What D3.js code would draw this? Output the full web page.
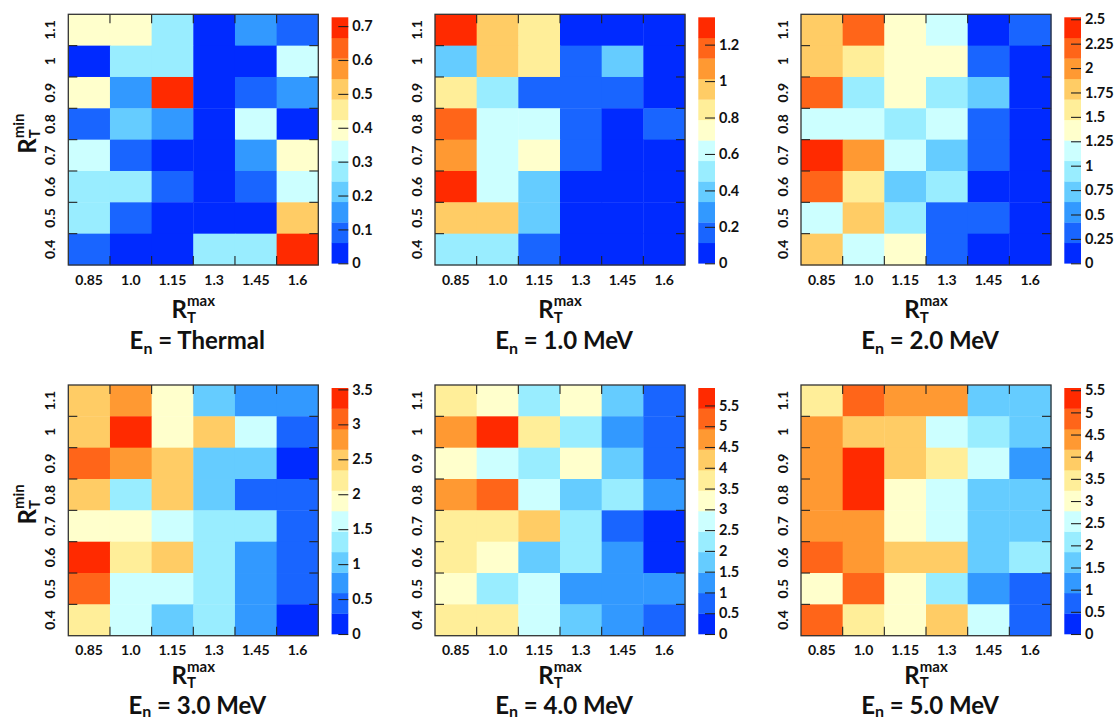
<!DOCTYPE html>
<html><head><meta charset="utf-8">
<script src="https://cdn.jsdelivr.net/npm/d3@7"></script>
<style>
body{margin:0;background:#fff}
text{font-family:Lato,'Open Sans',sans-serif;font-weight:bold;fill:#111}
</style>
</head><body>
<svg id="chart" width="1114" height="721"></svg>
<script>
// ---- data ----
const xCategories = ["0.85","1.0","1.15","1.3","1.45","1.6"];          // R_T^max
const yCategories = ["1.1","1","0.9","0.8","0.7","0.6","0.5","0.4"];    // R_T^min (top to bottom)
const panelTitles = ["Thermal","1.0 MeV","2.0 MeV","3.0 MeV","4.0 MeV","5.0 MeV"];
const zMax = [0.726, 1.35, 2.52, 3.52, 5.92, 5.55];
const zTicks = [
  [0,0.1,0.2,0.3,0.4,0.5,0.6,0.7],
  [0,0.2,0.4,0.6,0.8,1,1.2],
  [0,0.25,0.5,0.75,1,1.25,1.5,1.75,2,2.25,2.5],
  [0,0.5,1,1.5,2,2.5,3,3.5],
  [0,0.5,1,1.5,2,2.5,3,3.5,4,4.5,5,5.5],
  [0,0.5,1,1.5,2,2.5,3,3.5,4,4.5,5,5.5]
];
// rows follow yCategories (1.1 at top), columns follow xCategories
const valuesThermal = [
  [0.39,0.40,0.27,0.02,0.15,0.09],
  [0.03,0.27,0.28,0.01,0.02,0.33],
  [0.40,0.16,0.726,0.02,0.09,0.15],
  [0.09,0.21,0.15,0.01,0.33,0.03],
  [0.33,0.10,0.04,0.02,0.15,0.39],
  [0.27,0.28,0.09,0.01,0.10,0.33],
  [0.27,0.09,0.03,0.02,0.04,0.51],
  [0.09,0.03,0.04,0.27,0.27,0.70]
];
const values1MeV = [
  [1.35,0.96,0.84,0.05,0.04,0.03],
  [0.39,0.96,0.84,0.17,0.39,0.05],
  [0.84,0.51,0.17,0.17,0.17,0.05],
  [1.18,0.62,0.62,0.17,0.05,0.17],
  [1.07,0.62,0.73,0.17,0.05,0.04],
  [1.29,0.62,0.39,0.04,0.03,0.03],
  [0.96,0.96,0.39,0.03,0.03,0.03],
  [0.51,0.51,0.17,0.03,0.03,0.03]
];
const values2MeV = [
  [1.79,2.21,1.37,1.16,0.10,0.32],
  [1.79,1.58,1.37,1.37,0.32,0.10],
  [2.21,0.95,1.37,0.95,0.74,0.10],
  [1.16,1.16,0.95,1.16,0.32,0.10],
  [2.52,2.00,1.16,0.74,0.32,0.10],
  [2.21,1.58,0.74,0.95,0.10,0.10],
  [1.16,1.79,0.95,0.32,0.32,0.10],
  [1.79,1.16,1.37,0.32,0.10,0.10]
];
const values3MeV = [
  [2.49,2.79,1.91,1.03,0.73,0.73],
  [2.49,3.52,1.91,2.49,1.61,0.44],
  [3.08,2.79,2.49,1.03,1.03,0.15],
  [2.49,1.32,2.49,1.03,0.44,0.44],
  [1.91,1.91,1.61,1.32,1.32,0.44],
  [3.37,2.20,2.49,1.32,0.73,0.44],
  [3.08,1.61,1.61,1.32,0.73,0.44],
  [2.20,1.61,1.03,1.32,0.73,0.15]
];
const values4MeV = [
  [3.70,3.21,2.22,3.21,1.73,0.74],
  [4.69,5.92,3.70,2.22,1.23,0.74],
  [3.21,2.71,2.22,3.21,1.73,0.74],
  [4.69,5.18,2.71,1.73,2.22,1.23],
  [3.70,3.70,4.19,2.22,0.74,0.25],
  [3.70,3.21,1.73,2.22,1.23,0.25],
  [3.21,2.22,2.71,1.23,1.23,1.23],
  [3.70,3.70,2.71,1.73,1.23,0.74]
];
const values5MeV = [
  [3.47,4.86,4.39,4.39,1.62,1.62],
  [4.39,3.93,3.93,2.54,2.08,1.62],
  [4.39,5.55,3.93,3.47,2.54,1.16],
  [4.39,5.32,3.01,2.54,1.62,1.62],
  [4.39,4.39,3.01,2.54,1.62,1.62],
  [4.86,4.39,3.93,3.93,1.62,2.08],
  [3.01,4.86,3.01,2.08,1.16,0.69],
  [4.86,3.47,3.01,3.93,2.54,0.69]
];
const panelValues = [valuesThermal, values1MeV, values2MeV, values3MeV, values4MeV, values5MeV];

// ---- style ----
const palette = ["#002aff","#1965ff","#3299ff","#65ccff","#99edff","#ccffff",
                 "#ffffcc","#ffee99","#ffcc65","#ff9932","#ff6519","#ff2a00"];
const frameX = [68.3, 435, 801];
const frameY = [14.3, 385];
const W = 250, H = 250.7;
const xLabelOff = [53, 48], titleOff = [84, 78];
const subDy = [5, 3.5];

const svg = d3.select("#chart");
svg.append("rect").attr("width",1114).attr("height",721).attr("fill","#fff");

function rLabel(g, sup) {
  const r = g.append("text").attr("font-size",24).text("R");
  const w = r.node().getComputedTextLength();
  const s1 = g.append("text").attr("x",w).attr("y",4.5).attr("font-size",15).text("T");
  const s2 = g.append("text").attr("x",w).attr("y",-12).attr("font-size",15).text(sup);
  const tot = w + Math.max(s1.node().getComputedTextLength(), s2.node().getComputedTextLength());
  g.selectAll("text").attr("transform",`translate(${-tot/2},0)`);
}

panelValues.forEach((vals, p) => {
  const col = p % 3, row = Math.floor(p / 3);
  const fx = frameX[col], fy = frameY[row];
  const g = svg.append("g").attr("transform",`translate(${fx},${fy})`);
  const x = d3.scaleBand().domain(xCategories).range([0, W]);
  const y = d3.scaleBand().domain(yCategories).range([0, H]);
  const color = d3.scaleQuantize().domain([0, zMax[p]]).range(palette);

  // cells
  const cells = [];
  vals.forEach((r, yi) => r.forEach((v, xi) => cells.push({x:xCategories[xi], y:yCategories[yi], v})));
  g.selectAll("rect.cell").data(cells).join("rect").attr("class","cell")
    .attr("x", d => x(d.x)).attr("y", d => y(d.y))
    .attr("width", x.bandwidth()+0.4).attr("height", y.bandwidth()+0.4)
    .attr("fill", d => color(d.v));

  // ticks at cell boundaries
  const tl = 9;
  const xb = xCategories.slice(1).map(c => x(c));
  const yb = yCategories.slice(1).map(c => y(c));
  const tg = g.append("g").attr("stroke","#222").attr("stroke-width",1.1);
  xb.forEach(v => {
    tg.append("line").attr("x1",v).attr("x2",v).attr("y1",0).attr("y2",tl);
    tg.append("line").attr("x1",v).attr("x2",v).attr("y1",H).attr("y2",H-tl);
  });
  yb.forEach(v => {
    tg.append("line").attr("y1",v).attr("y2",v).attr("x1",0).attr("x2",tl);
    tg.append("line").attr("y1",v).attr("y2",v).attr("x1",W).attr("x2",W-tl);
  });
  g.append("rect").attr("width",W).attr("height",H).attr("fill","none")
    .attr("stroke","#333").attr("stroke-width",1.3);

  // x tick labels
  const xa = g.append("g").attr("transform",`translate(0,${H})`)
    .call(d3.axisBottom(x).tickSize(0).tickPadding(0));
  xa.select(".domain").remove();
  xa.selectAll("text").attr("dy",null).attr("y",19.5).attr("font-size",14)
    .style("font-family","Lato,'Open Sans',sans-serif").style("font-weight","bold").attr("fill","#111");

  // y tick labels (rotated)
  g.selectAll("text.ylab").data(yCategories).join("text").attr("class","ylab")
    .attr("transform", d => `translate(-13,${y(d)+y.bandwidth()/2}) rotate(-90)`)
    .attr("text-anchor","middle").attr("font-size",14).text(d => d);

  // x axis title
  rLabel(g.append("g").attr("transform",`translate(${W/2},${H+xLabelOff[row]})`), "max");
  // y axis title on left column
  if (col === 0) {
    rLabel(g.append("g").attr("transform",`translate(-32.5,${H/2-6}) rotate(-90)`), "min");
  }
  // panel title
  const t = g.append("text").attr("x", W/2+4).attr("y", H+titleOff[row])
    .attr("text-anchor","middle").attr("font-size",24);
  t.append("tspan").text("E");
  t.append("tspan").attr("font-size",16).attr("dy",subDy[row]).text("n");
  t.append("tspan").attr("dy",-subDy[row]).text(" = " + panelTitles[p]);

  // colour bar
  const cbW = 16.7;
  const cbTop = 3, cbBot = H - 1.7;
  const cs = d3.scaleLinear().domain([0, zMax[p]]).range([cbBot, cbTop]);
  const step = zMax[p] / palette.length;
  const cb = g.append("g").attr("transform",`translate(${263.3},0)`);
  cb.selectAll("rect").data(palette).join("rect")
    .attr("x",0).attr("width",cbW)
    .attr("y",(c,i) => cs((i+1)*step)).attr("height",(c,i) => cs(i*step)-cs((i+1)*step)+0.3)
    .attr("fill", c => c);
  const ca = cb.append("g").attr("transform",`translate(${cbW},0)`)
    .call(d3.axisRight(cs).tickValues(zTicks[p]).tickSize(-10).tickPadding(4).tickFormat(d3.format("~g")));
  ca.select(".domain").remove();
  ca.selectAll("line").attr("stroke","#222").attr("stroke-width",1.1);
  ca.selectAll("text").attr("font-size",14.5)
    .style("font-family","Lato,'Open Sans',sans-serif").style("font-weight","bold").attr("fill","#111");
});
</script>
</body></html>
